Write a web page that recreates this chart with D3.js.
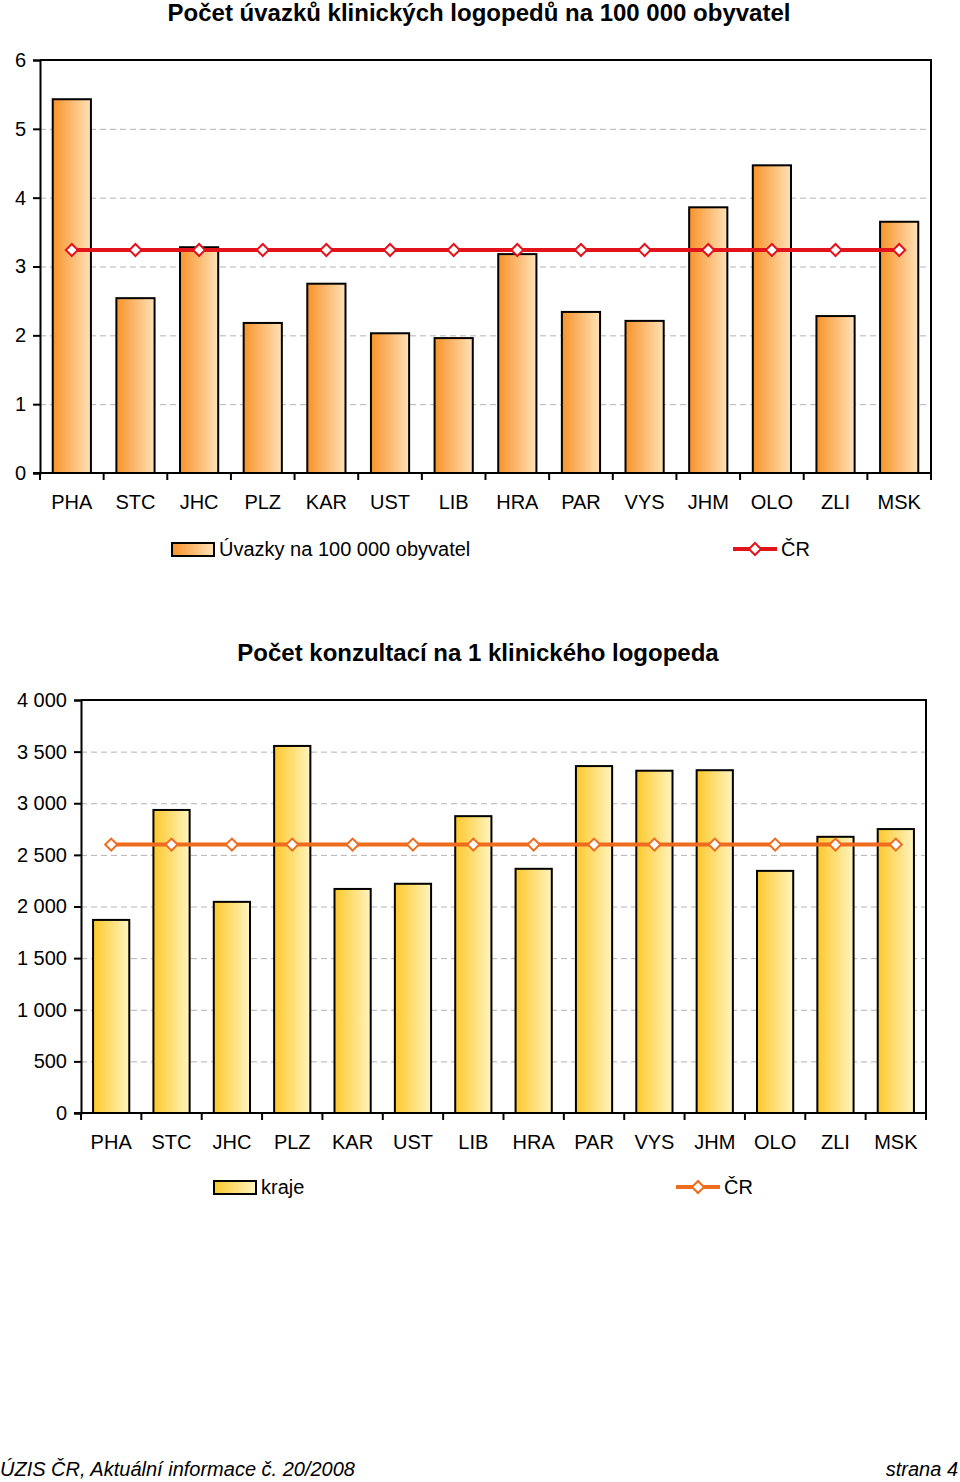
<!DOCTYPE html>
<html>
<head>
<meta charset="utf-8">
<script src="https://cdn.jsdelivr.net/npm/d3@7"></script>
<style>
body { margin: 0; background: #fff; }
svg { display: block; font-family: "Liberation Sans", Arial, sans-serif; }
</style>
</head>
<body>
<svg id="page" width="960" height="1482"></svg>
<script>
const regions = ['PHA', 'STC', 'JHC', 'PLZ', 'KAR', 'UST', 'LIB', 'HRA', 'PAR', 'VYS', 'JHM', 'OLO', 'ZLI', 'MSK'];

// chart 1: úvazky na 100 000 obyvatel
const uvazky = [5.43, 2.54, 3.28, 2.18, 2.75, 2.03, 1.96, 3.18, 2.34, 2.21, 3.86, 4.47, 2.28, 3.65];
const uvazkyCR = 3.24;
const uvazkyTicks = [0, 1, 2, 3, 4, 5, 6];

// chart 2: konzultace na 1 logopeda
const konzultace = [1870, 2935, 2045, 3555, 2170, 2220, 2875, 2365, 3360, 3315, 3320, 2345, 2675, 2750];
const konzultaceCR = 2600;
const konzultaceTicks = [0, 500, 1000, 1500, 2000, 2500, 3000, 3500, 4000];

const $svg = d3.select('#page');
const defs = $svg.append('defs');

function gradient(id, from, to) {
	const g = defs.append('linearGradient').attr('id', id)
		.attr('x1', 0).attr('x2', 1).attr('y1', 0).attr('y2', 0);
	g.append('stop').attr('offset', 0).attr('stop-color', from);
	g.append('stop').attr('offset', 1).attr('stop-color', to);
}
gradient('gOrange', '#f7932a', '#ffe2b8');
gradient('gGold', '#fdc82c', '#fff4c0');

const fmt = d => d3.format(',')(d).replace(/,/g, ' ');

function drawChart(o) {
	const { left, right, top, bottom } = o;
	const g = $svg.append('g');

	const x = d3.scaleBand().domain(regions).range([left, right]).paddingInner(0.4).paddingOuter(0.2);
	const band = d3.scaleBand().domain(regions).range([left, right]);
	const y = d3.scaleLinear().domain([0, o.max]).range([bottom, top]);

	// title
	g.append('text')
		.attr('x', o.titleX).attr('y', top - 39)
		.attr('text-anchor', 'middle')
		.attr('font-weight', 'bold').attr('font-size', 24)
		.text(o.title);

	// gridlines
	g.append('g').selectAll('line')
		.data(o.ticks.filter(t => t > 0 && t < o.max))
		.join('line')
		.attr('x1', left).attr('x2', right)
		.attr('y1', d => y(d) + 0.5).attr('y2', d => y(d) + 0.5)
		.attr('stroke', '#b3b3b3').attr('stroke-width', 1)
		.attr('stroke-dasharray', '6,4');

	// frame top/right
	g.append('path')
		.attr('d', `M${left},${top}H${right}V${bottom}`)
		.attr('fill', 'none').attr('stroke', '#000').attr('stroke-width', 2);

	// bars
	g.append('g').selectAll('rect')
		.data(o.values)
		.join('rect')
		.attr('x', (d, i) => x(regions[i]))
		.attr('y', d => y(d))
		.attr('width', x.bandwidth())
		.attr('height', d => y(0) - y(d))
		.attr('fill', `url(#${o.grad})`)
		.attr('stroke', '#000').attr('stroke-width', 2);

	// y axis
	const yAxis = d3.axisLeft(y).tickValues(o.ticks).tickSize(7).tickPadding(7).tickFormat(fmt);
	g.append('g').attr('transform', `translate(${left},0)`).call(yAxis)
		.call(a => a.select('.domain').attr('stroke-width', 2))
		.call(a => a.selectAll('.tick line').attr('stroke-width', 2))
		.call(a => a.selectAll('text').attr('font-size', 20).attr('font-family', null).attr('fill', '#000'));

	// x axis
	const xg = g.append('g').attr('transform', `translate(0,${bottom})`);
	xg.append('line').attr('x1', left - 7).attr('x2', right)
		.attr('stroke', '#000').attr('stroke-width', 2);
	xg.selectAll('.tk').data(regions.concat(['__end']))
		.join('line').attr('class', 'tk')
		.attr('x1', (d, i) => left + i * band.bandwidth())
		.attr('x2', (d, i) => left + i * band.bandwidth())
		.attr('y1', 0).attr('y2', 7)
		.attr('stroke', '#000').attr('stroke-width', 2);
	xg.selectAll('text').data(regions)
		.join('text')
		.attr('x', d => band(d) + band.bandwidth() / 2)
		.attr('y', 36)
		.attr('text-anchor', 'middle')
		.attr('font-size', 20)
		.text(d => d);

	// national line
	const lineY = y(o.cr);
	const cx = d => x(d) + x.bandwidth() / 2;
	g.append('line')
		.attr('x1', cx(regions[0])).attr('x2', cx(regions[regions.length - 1]))
		.attr('y1', lineY).attr('y2', lineY)
		.attr('stroke', o.lineColor).attr('stroke-width', 4);
	const diamond = d3.symbol().type(d3.symbolSquare).size(72);
	g.append('g').selectAll('path')
		.data(regions)
		.join('path')
		.attr('d', diamond)
		.attr('transform', d => `translate(${cx(d)},${lineY}) rotate(45)`)
		.attr('fill', '#fff').attr('stroke', o.lineColor).attr('stroke-width', 2);

	// legend
	const ly = bottom + o.legendDy;
	g.append('rect')
		.attr('x', o.legBar).attr('y', ly - 6).attr('width', 42).attr('height', 13)
		.attr('fill', `url(#${o.grad})`).attr('stroke', '#000').attr('stroke-width', 2);
	g.append('text').attr('x', o.legBar + 47).attr('y', ly + 7)
		.attr('font-size', 20).text(o.legendText);
	g.append('line')
		.attr('x1', o.legLine).attr('x2', o.legLine + 44).attr('y1', ly).attr('y2', ly)
		.attr('stroke', o.lineColor).attr('stroke-width', 4);
	g.append('path').attr('d', diamond)
		.attr('transform', `translate(${o.legLine + 22},${ly}) rotate(45)`)
		.attr('fill', '#fff').attr('stroke', o.lineColor).attr('stroke-width', 2);
	g.append('text').attr('x', o.legLine + 48).attr('y', ly + 7)
		.attr('font-size', 20).text('ČR');
}

drawChart({
	left: 40, right: 931, top: 60, bottom: 473, max: 6,
	values: uvazky, cr: uvazkyCR, ticks: uvazkyTicks,
	title: 'Počet úvazků klinických logopedů na 100 000 obyvatel', titleX: 479,
	grad: 'gOrange', lineColor: '#e3131b',
	legendDy: 76, legBar: 172, legendText: 'Úvazky na 100 000 obyvatel', legLine: 733
});

drawChart({
	left: 81, right: 926, top: 700, bottom: 1113, max: 4000,
	values: konzultace, cr: konzultaceCR, ticks: konzultaceTicks,
	title: 'Počet konzultací na 1 klinického logopeda', titleX: 478,
	grad: 'gGold', lineColor: '#ef6c1e',
	legendDy: 74, legBar: 214, legendText: 'kraje', legLine: 676
});

// footer
$svg.append('text').attr('x', 0).attr('y', 1476)
	.attr('font-style', 'italic').attr('font-size', 20)
	.text('ÚZIS ČR, Aktuální informace č. 20/2008');
$svg.append('text').attr('x', 958).attr('y', 1476)
	.attr('text-anchor', 'end')
	.attr('font-style', 'italic').attr('font-size', 20)
	.text('strana 4');
</script>
</body>
</html>
